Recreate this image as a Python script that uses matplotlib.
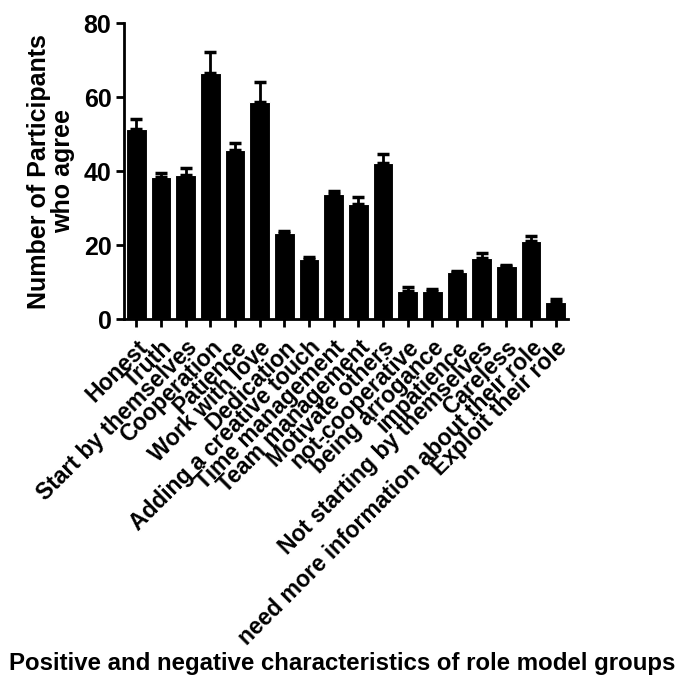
import matplotlib
matplotlib.use("Agg")
import matplotlib.pyplot as plt
import numpy as np

categories = ["Honest", "Truth", "Start by themselves", "Cooperation", "Patience",
              "Work with love", "Dedication", "Adding a creative touch", "Time management",
              "Team management", "Motivate others", "not-cooperative", "being arrogance",
              "impatience", "Not starting by themselves", "Careless",
              "need more information about their role", "Exploit their role"]
means = [51.4, 38.4, 38.9, 66.6, 45.6, 58.8, 23.4, 16.2, 33.9, 31.1, 42.3,
         7.7, 7.7, 12.7, 16.6, 14.3, 21.2, 4.7]
errors = [2.6, 1.0, 2.0, 5.6, 1.9, 5.2, 0.4, 0.6, 0.7, 1.8, 2.4,
          0.9, 0.5, 0.4, 1.4, 0.5, 1.3, 0.9]
yticks = [0, 20, 40, 60, 80]

plt.rcParams['font.family'] = ['Liberation Sans', 'DejaVu Sans']
plt.rcParams['font.weight'] = 'bold'

fig = plt.figure(figsize=(6.85, 6.78), dpi=100)
ax = fig.add_axes([0.181, 0.529, 0.648, 0.437])

x = np.arange(len(categories))
ax.bar(x, means, width=0.84, color='black', edgecolor='white', linewidth=0.8, zorder=2)
ax.errorbar(x, means, yerr=[np.zeros(len(errors)), errors], fmt='none',
            ecolor='black', elinewidth=2, capsize=4, capthick=2.5, zorder=3)

ax.set_xlim(-0.5, len(categories) - 0.5)
ax.set_ylim(0, 80)
ax.set_yticks(yticks)
ax.set_yticklabels([str(v) for v in yticks], fontsize=18, fontweight='bold')
ax.set_xticks(x)
ax.set_xticklabels(categories, rotation=45, ha='right', va='top', rotation_mode='anchor',
                   fontsize=16.5, fontweight='bold')
ax.tick_params(axis='both', direction='out', length=6, width=2, pad=3)
ax.tick_params(axis='x', pad=6)

for s in ['top', 'right']:
    ax.spines[s].set_visible(False)
for s in ['left', 'bottom']:
    ax.spines[s].set_linewidth(2)

ax.set_ylabel("Number of Participants\nwho agree", fontsize=18, fontweight='bold',
              linespacing=1.0, labelpad=6)
fig.text(0.5, 0.022, "Positive and negative characteristics of role model groups",
         ha='center', va='center', fontsize=17.3, fontweight='bold')

fig.savefig("out.png", dpi=100)
